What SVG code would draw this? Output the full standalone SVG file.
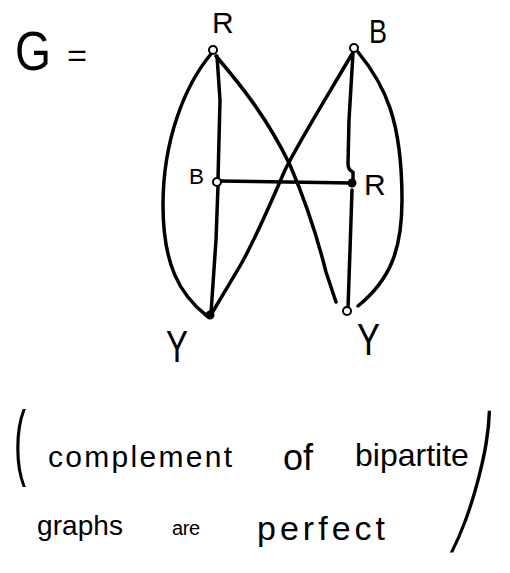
<svg xmlns="http://www.w3.org/2000/svg" width="510" height="573" viewBox="0 0 510 573">
<style>
.e{fill:none;stroke:#000;stroke-width:3.5;stroke-linecap:round;stroke-linejoin:round}
.n{fill:#fff;stroke:#000;stroke-width:2}
.f{fill:#000;stroke:#000;stroke-width:2}
.t{font-family:"Liberation Sans",Arial,sans-serif;fill:#000}
</style>
<rect width="510" height="573" fill="#fff"/>
<g id="title">
<text class="t" x="15" y="70" font-size="56" textLength="36" lengthAdjust="spacingAndGlyphs">G</text>
<text class="t" x="67" y="66" font-size="32" textLength="20" lengthAdjust="spacingAndGlyphs">=</text>
</g>
<g id="connectors">
<path class="e" d="M211,54 C185,85 163,140 163,205 C163,265 180,295 207,316"/>
<path class="e" d="M358,52 C385,85 402,120 402,200 C402,250 390,280 358,306"/>
<path class="e" d="M217,56 L220,100 L218,179"/>
<path class="e" d="M218,186 L216,240 L211,313"/>
<path class="e" d="M216,56 C245,90 268,120 290,165 C305,200 318,240 326,272 L336,302"/>
<path class="e" d="M352,54 C325,100 300,140 285,170 C270,205 255,240 240,266 L212,313"/>
<path class="e" d="M353,53 L349,120 L348,164 Q348,170 353,172 L353,180"/>
<path class="e" d="M352,190 L350,250 L348,308"/>
<path class="e" d="M219,181 L352,183"/>
</g>
<g id="node-R-top">
<circle class="n" cx="213" cy="50" r="4"/>
<text class="t" x="212" y="33" font-size="30">R</text>
</g>
<g id="node-B-top">
<circle class="n" cx="354" cy="48" r="4"/>
<text class="t" x="369" y="43" font-size="34" textLength="18" lengthAdjust="spacingAndGlyphs">B</text>
</g>
<g id="node-B-mid">
<circle class="n" cx="217" cy="182" r="4"/>
<text class="t" x="189" y="184" font-size="22" textLength="15" lengthAdjust="spacingAndGlyphs">B</text>
</g>
<g id="node-R-mid">
<circle class="f" cx="352" cy="183" r="3.5"/>
<text class="t" x="364" y="195" font-size="30">R</text>
</g>
<g id="node-Y-left">
<circle class="f" cx="210" cy="315" r="3.5"/>
<text class="t" x="166" y="362" font-size="44" textLength="22" lengthAdjust="spacingAndGlyphs">Y</text>
</g>
<g id="node-Y-right">
<circle class="n" cx="347" cy="311" r="4"/>
<text class="t" x="357" y="355" font-size="44" textLength="23" lengthAdjust="spacingAndGlyphs">Y</text>
</g>
<g id="caption">
<text class="t" font-size="40" transform="translate(14,470) scale(0.9,2.1)">(</text>
<text class="t" x="48" y="467" font-size="30" textLength="184" lengthAdjust="spacing">complement</text>
<text class="t" x="283" y="470" font-size="36">of</text>
<text class="t" x="355" y="466" font-size="32">bipartite</text>
<text class="t" x="37" y="535" font-size="28" textLength="86" lengthAdjust="spacing">graphs</text>
<text class="t" x="172" y="535" font-size="20" textLength="28" lengthAdjust="spacing">are</text>
<text class="t" x="257" y="540" font-size="34" textLength="128" lengthAdjust="spacing">perfect</text>
<text class="t" font-size="40" transform="translate(458,521) skewX(-15) scale(1,3.8)">)</text>
</g>
</svg>
